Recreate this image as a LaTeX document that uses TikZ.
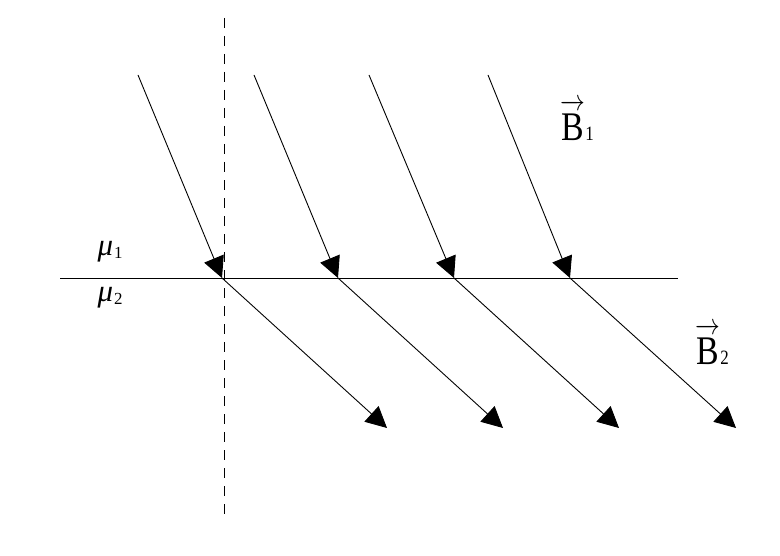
\documentclass[tikz,border=0pt]{standalone}
\usepackage{fontspec}
\usepackage{graphicx}
\setmainfont{Liberation Serif}
\usetikzlibrary{arrows.meta}
\tikzset{
  ray/.style={line width=0.9bp, -{Triangle[length=21bp,width=21bp]}},
  plain/.style={line width=0.9bp},
  lbl/.style={inner sep=0pt, font=\fontsize{34}{38}\selectfont},
  mulbl/.style={inner sep=0pt, font=\fontsize{31}{34}\selectfont}
}
\newcommand{\Bvec}[1]{\scalebox{1}[1.2]{$\overrightarrow{\mbox{B}\rule{0pt}{0.78em}}$\kern0.5bp{\fontsize{17}{20}\selectfont #1}}}
\newcommand{\Mulab}[1]{\textit{μ}\kern1bp\raisebox{-0.2ex}{\fontsize{17}{20}\selectfont #1}}
\begin{document}
\begin{tikzpicture}[x=1bp,y=-1bp]
\useasboundingbox (0,0) rectangle (780,556);
% boundary and normal
\coordinate (hl) at (60,278);
\coordinate (hr) at (678,278);
\coordinate (vt) at (224,18);
\coordinate (vb) at (224,522);
\draw[plain] (hl) -- (hr);
\draw[plain, dash pattern=on 10bp off 8bp] (vt) -- (vb);
% incident and refracted rays
\foreach \i/\sx/\px/\ex in {1/138/222/387, 2/254/338/503, 3/369/454/619, 4/488/570/736} {
  \coordinate (s\i) at (\sx,75);
  \coordinate (p\i) at (\px,278);
  \coordinate (e\i) at (\ex,428);
  \draw[ray] (s\i) -- (p\i);
  \draw[ray] (p\i) -- (e\i);
}
% labels
\node[mulbl] (mu1) at (110,252) {\Mulab{1}};
\node[mulbl] (mu2) at (110,298) {\Mulab{2}};
\node[lbl] (b1) at (577,120) {\Bvec{1}};
\node[lbl] (b2) at (712,344) {\Bvec{2}};
\end{tikzpicture}
\end{document}
